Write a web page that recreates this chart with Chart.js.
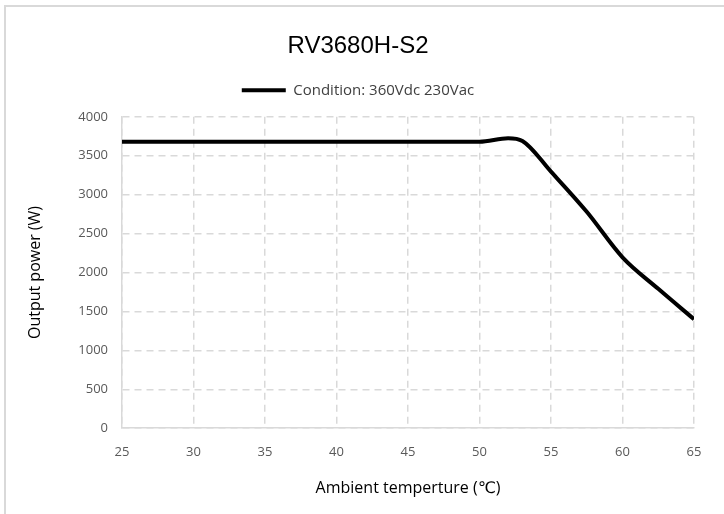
<!doctype html>
<html lang="en">
  <head>
    <meta charset="UTF-8" />
    <title>RV3680H-S2</title>
    <style>
      html, body { margin: 0; padding: 0; background: #fff; }
      #frame {
        position: absolute; left: 4px; top: 5px; width: 740px; height: 530px;
        border-left: 2px solid #d9d9d9; border-top: 2px solid #d9d9d9;
      }
      #chart { position: absolute; left: 0; top: 0; }
    </style>
  </head>

  <body>
    <div id="frame"></div>
    <canvas id="chart" width="724" height="514"></canvas>

    <script src="https://cdn.jsdelivr.net/npm/chart.js@4"></script>

    <script>
      // ambient temperature (°C) and output power (W)
      const temps = [25, 50, 52, 53, 55, 57.5, 60, 62.5, 65]
      const power = [3680, 3680, 3725, 3690, 3295, 2780, 2195, 1790, 1400]

      const seriesLabel = 'Condition: 360Vdc 230Vac'
      const chartTitle = 'RV3680H-S2'
      const xTitle = 'Ambient temperture (\u2103)'
      const yTitle = 'Output power (W)'

      const GRID = '#d9d9d9'
      const TICK = '#595959'
      const FONT = "'Open Sans', 'DejaVu Sans', sans-serif"

      // extra room under the legend
      const legendGap = {
        id: 'legendGap',
        beforeInit(chart) {
          const fit = chart.legend.fit
          chart.legend.fit = function () {
            fit.call(this)
            this.height += 9
          }
        },
      }

      new Chart(document.getElementById('chart'), {
        type: 'line',
        plugins: [legendGap],
        data: {
          datasets: [
            {
              label: seriesLabel,
              data: temps.map((t, i) => ({ x: t, y: power[i] })),
              borderColor: '#000',
              backgroundColor: '#000',
              borderWidth: 4,
              pointRadius: 0,
              pointStyle: 'line',
              cubicInterpolationMode: 'monotone',
            },
          ],
        },
        options: {
          animation: false,
          responsive: false,
          devicePixelRatio: 1,
          layout: { padding: { left: 22, right: 30, top: 14, bottom: 12 } },
          plugins: {
            title: {
              display: true,
              text: chartTitle,
              color: '#000',
              font: { family: "'Liberation Sans', Arial, sans-serif", size: 24, weight: 'normal' },
              padding: { top: 18, bottom: 12 },
            },
            legend: {
              labels: {
                color: '#404040',
                font: { family: FONT, size: 15 },
                usePointStyle: true,
                pointStyleWidth: 44,
                boxHeight: 8,
                padding: 10,
              },
            },
            tooltip: { enabled: false },
          },
          scales: {
            x: {
              type: 'linear',
              min: 25,
              max: 65,
              ticks: { stepSize: 5, color: TICK, font: { family: FONT, size: 13 }, padding: 16, maxRotation: 0 },
              grid: { color: GRID, lineWidth: 1.5, drawTicks: false },
              border: { display: true, color: GRID, width: 1.5, dash: [7, 5] },
              title: {
                display: true,
                text: xTitle,
                color: '#000',
                font: { family: FONT, size: 16 },
                padding: { top: 3, bottom: 4 },
              },
            },
            y: {
              min: 0,
              max: 4000,
              ticks: {
                stepSize: 500,
                color: TICK,
                font: { family: FONT, size: 13 },
                padding: 14,
                callback: (v) => String(v),
              },
              grid: { color: GRID, lineWidth: 1.5, drawTicks: false },
              border: { display: true, color: GRID, width: 1.5, dash: [7, 5] },
              title: {
                display: true,
                text: yTitle,
                color: '#000',
                font: { family: FONT, size: 16 },
                padding: { bottom: 12 },
              },
              afterFit(scale) {
                scale.width = 100
              },
            },
          },
        },
      })
    </script>
  </body>
</html>
